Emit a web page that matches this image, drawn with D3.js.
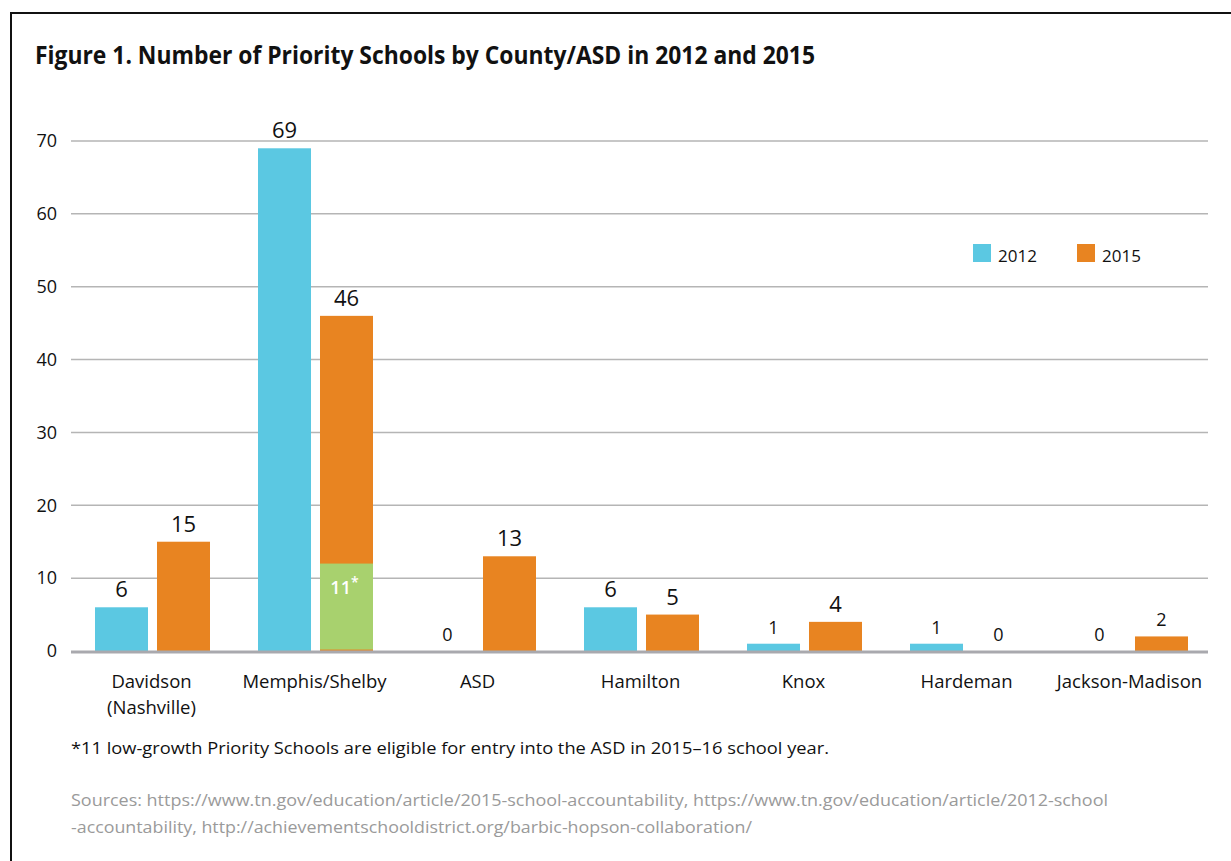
<!DOCTYPE html>
<html>
<head>
<meta charset="utf-8">
<script src="https://cdn.jsdelivr.net/npm/d3@7"></script>
<style>
  html, body { margin: 0; padding: 0; background: #fff; }
  svg { display: block; font-family: "Open Sans", "Noto Sans", sans-serif; }
</style>
</head>
<body>
<svg id="chart" width="1231" height="861"></svg>
<script>
// ---- data ----
const categories = ["Davidson\n(Nashville)", "Memphis/Shelby", "ASD", "Hamilton", "Knox", "Hardeman", "Jackson-Madison"];
const series = ["2012", "2015"];
const values2012 = [6, 69, 0, 6, 1, 1, 0];
const values2015 = [15, 46, 13, 5, 4, 0, 2];
const eligibleCategory = "Memphis/Shelby";
const eligibleDrawn = 12;      // height of green segment as drawn
const eligibleLabel = "11";
const yTicks = [0, 10, 20, 30, 40, 50, 60, 70];
const titleText = "Figure 1. Number of Priority Schools by County/ASD in 2012 and 2015";
const footnoteText = "*11 low-growth Priority Schools are eligible for entry into the ASD in 2015\u201316 school year.";
const sourcesLines = [
  "Sources: https://www.tn.gov/education/article/2015-school-accountability, https://www.tn.gov/education/article/2012-school",
  "-accountability, http://achievementschooldistrict.org/barbic-hopson-collaboration/"
];

const colors = { "2012": "#5BC8E2", "2015": "#E88421" };
const green = "#A8D16E";

const svg = d3.select("#chart");

// frame
svg.append("line").attr("x1", 11).attr("x2", 1231).attr("y1", 13).attr("y2", 13)
  .attr("stroke", "#111").attr("stroke-width", 2);
svg.append("line").attr("x1", 11).attr("x2", 11).attr("y1", 12).attr("y2", 861)
  .attr("stroke", "#111").attr("stroke-width", 2);

// title
svg.append("text").attr("x", 35).attr("y", 64)
  .attr("font-size", 25).attr("font-weight", 700).attr("fill", "#111")
  .attr("textLength", 780).attr("lengthAdjust", "spacingAndGlyphs")
  .text(titleText);

// scales
const x0 = d3.scaleBand().domain(categories).range([70, 1211]).padding(0);
const x1 = d3.scaleBand().domain(series).range([25, 140]).paddingInner(0.145).paddingOuter(0);
const y = d3.scaleLinear().domain([0, 70]).range([651, 141]);

// grid
const g = svg.append("g");
g.selectAll("line.grid").data(yTicks.filter(d => d > 0)).enter().append("line")
  .attr("class", "grid")
  .attr("x1", 71).attr("x2", 1208)
  .attr("y1", d => y(d)).attr("y2", d => y(d))
  .attr("stroke", "#b5b5b5").attr("stroke-width", 1.5);

// y axis labels
const yAxis = d3.axisLeft(y).tickValues(yTicks).tickSize(0).tickPadding(0);
const yg = svg.append("g").attr("transform", "translate(57,0)").call(yAxis);
yg.select(".domain").remove();
yg.selectAll("text").attr("font-size", 18).attr("fill", "#111")
  .attr("font-family", "\"Open Sans\", sans-serif").attr("dy", "0.32em");

// bars
const rows = categories.map((c, i) => ({ cat: c, vals: [
  { s: "2012", v: values2012[i] }, { s: "2015", v: values2015[i] }
]}));

const groups = svg.append("g").selectAll("g.cat").data(rows).enter().append("g")
  .attr("transform", d => `translate(${x0(d.cat)},0)`);

groups.selectAll("rect").data(d => d.vals.filter(e => e.v > 0)).enter().append("rect")
  .attr("x", d => x1(d.s)).attr("width", x1.bandwidth())
  .attr("y", d => y(d.v)).attr("height", d => y(0) - y(d.v))
  .attr("fill", d => colors[d.s]);

// green overlay for eligible schools
const gx = x0(eligibleCategory) + x1("2015");
svg.append("rect").attr("x", gx).attr("width", x1.bandwidth())
  .attr("y", y(eligibleDrawn)).attr("height", y(0.2) - y(eligibleDrawn))
  .attr("fill", green);
const gl = svg.append("text").attr("x", gx + x1.bandwidth() / 2 - 2).attr("y", y(eligibleDrawn) + 30)
  .attr("text-anchor", "middle").attr("font-size", 18).attr("font-weight", 600).attr("fill", "#fff");
gl.append("tspan").text(eligibleLabel);
gl.append("tspan").attr("dy", -7).attr("font-size", 14).text("*");

// value labels
groups.selectAll("text.val").data(d => d.vals).enter().append("text")
  .attr("class", "val")
  .attr("x", d => x1(d.s) + x1.bandwidth() / 2)
  .attr("y", d => y(d.v) - 10)
  .attr("text-anchor", "middle")
  .attr("font-size", d => d.v <= 2 ? 18 : 22)
  .attr("fill", "#111")
  .text(d => d.v);

// category labels
const xAxis = d3.axisBottom(x0).tickSize(0).tickPadding(0);
const xg = svg.append("g").attr("transform", "translate(0,651)").call(xAxis);
xg.select(".domain").remove();
xg.selectAll("text").remove();
xg.selectAll(".tick").each(function(d) {
  const lines = d.split("\n");
  lines.forEach((ln, i) => {
    d3.select(this).append("text").attr("text-anchor", "middle")
      .attr("font-size", 18.5).attr("fill", "#111").attr("font-family", "\"Open Sans\", sans-serif")
      .attr("x", 0).attr("y", 37 + i * 25.5).text(ln);
  });
});

// baseline
svg.append("line").attr("x1", 71).attr("x2", 1208).attr("y1", y(0) + 1).attr("y2", y(0) + 1)
  .attr("stroke", "#a9a9ae").attr("stroke-width", 3);

// legend
const legend = svg.append("g");
const legendPos = [{ s: "2012", x: 973 }, { s: "2015", x: 1077 }];
legendPos.forEach(p => {
  legend.append("rect").attr("x", p.x).attr("y", 244).attr("width", 18).attr("height", 18).attr("fill", colors[p.s]);
  legend.append("text").attr("x", p.x + 25).attr("y", 262).attr("font-size", 17).attr("fill", "#111").text(p.s);
});

// footnote
svg.append("text").attr("x", 71).attr("y", 754).attr("font-size", 17).attr("fill", "#111")
  .attr("textLength", 758).attr("lengthAdjust", "spacingAndGlyphs")
  .text(footnoteText);

// sources
const srcLens = [1037, 681];
sourcesLines.forEach((ln, i) => {
  svg.append("text").attr("x", 71).attr("y", 806 + i * 27).attr("font-size", 16).attr("fill", "#9a9a9a")
    .attr("textLength", srcLens[i]).attr("lengthAdjust", "spacingAndGlyphs")
    .text(ln);
});
</script>
</body>
</html>
